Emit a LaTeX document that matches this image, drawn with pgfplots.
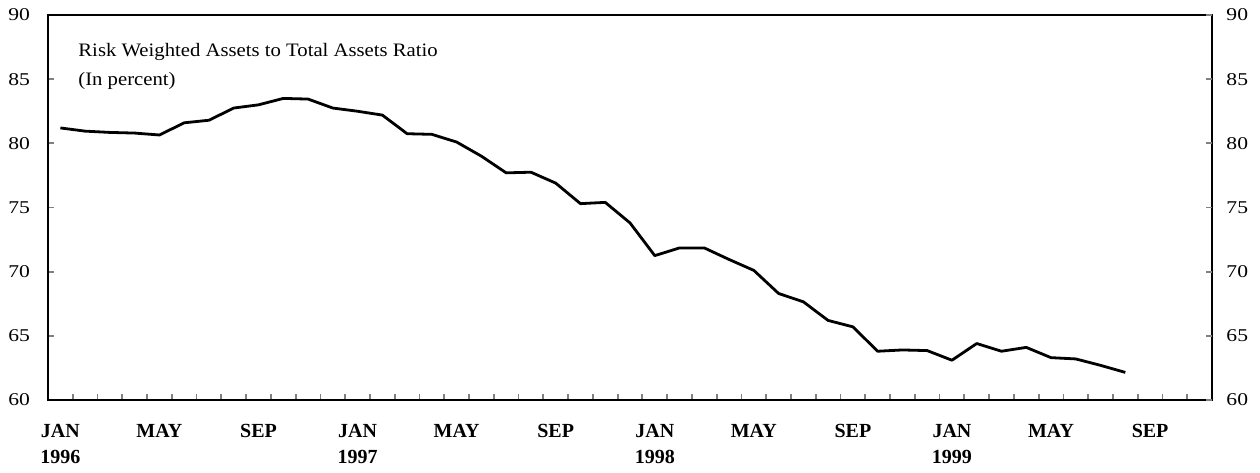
\documentclass[border=0pt]{standalone}
\usepackage{pgfplots}
\pgfplotsset{compat=1.18}
\usepackage{fontspec}
\usepackage{graphicx}
\setmainfont{Liberation Serif}
\pgfplotstableread{
x y
0.5 81.2
1.5 80.95
2.5 80.85
3.5 80.8
4.5 80.65
5.5 81.6
6.5 81.8
7.5 82.75
8.5 83.0
9.5 83.5
10.5 83.45
11.5 82.75
12.5 82.5
13.5 82.2
14.5 80.75
15.5 80.7
16.5 80.1
17.5 79.0
18.5 77.7
19.5 77.75
20.5 76.9
21.5 75.3
22.5 75.4
23.5 73.8
24.5 71.25
25.5 71.85
26.5 71.85
27.5 70.95
28.5 70.1
29.5 68.3
30.5 67.65
31.5 66.2
32.5 65.7
33.5 63.8
34.5 63.9
35.5 63.85
36.5 63.1
37.5 64.4
38.5 63.8
39.5 64.1
40.5 63.3
41.5 63.2
42.5 62.7
43.5 62.15
}\datatable
\newcommand{\hs}[1]{\scalebox{1.2}[1]{#1}}
\begin{document}
\begin{tikzpicture}
\begin{axis}[
  at={(0,0)}, anchor=south west,
  scale only axis,
  width=582pt, height=192.5pt,
  xmin=0, xmax=47, ymin=60, ymax=90,
  axis line style={line width=1.2pt},
  tick align=inside,
  xtick={1,...,46}, xticklabels={},
  major tick length=3pt,
  xtick pos=bottom,
  extra x ticks={0.5,4.5,8.5,12.5,16.5,20.5,24.5,28.5,32.5,36.5,40.5,44.5},
  extra x tick labels={JAN\\1996,MAY,SEP,JAN\\1997,MAY,SEP,JAN\\1998,MAY,SEP,JAN\\1999,MAY,SEP},
  extra x tick style={major tick length=0pt, tick style={draw=none},
    tick label style={align=center, anchor=north, yshift=-8.4pt,
      font=\fontsize{10}{13.3}\selectfont\bfseries}},
  ytick={60,65,...,90},
  ytick pos=left,
  y tick style={line width=0.9pt},
  x tick style={line width=0.9pt},
  yticklabel style={font=\fontsize{9}{10}\selectfont, xshift=-5.5pt},
  yticklabel={\hs{\pgfmathprintnumber[assume math mode=true]{\tick}}},
]
\addplot[black, line width=1.4pt, line join=round] table[x=x,y=y]{\datatable};
\node[anchor=base west, inner sep=0pt, font=\fontsize{9.5}{11}\selectfont] at (axis description cs:0.0258,0.891) {\scalebox{1.09}[1]{Risk Weighted Assets to Total Assets Ratio}};
\node[anchor=base west, inner sep=0pt, font=\fontsize{9.5}{11}\selectfont] at (axis description cs:0.0258,0.816) {\scalebox{1.09}[1]{(In percent)}};
\end{axis}
\begin{axis}[
  at={(0,0)}, anchor=south west,
  scale only axis,
  width=582pt, height=192.5pt,
  xmin=0, xmax=47, ymin=60, ymax=90,
  axis line style={draw=none},
  tick align=inside,
  xtick=\empty,
  ytick={60,65,...,90},
  ytick pos=right,
  yticklabel pos=right,
  major tick length=3pt,
  y tick style={line width=0.9pt},
  yticklabel style={font=\fontsize{9}{10}\selectfont, xshift=3.7pt},
  yticklabel={\hs{\pgfmathprintnumber[assume math mode=true]{\tick}}},
]
\end{axis}
\pgfresetboundingbox
\path (-24pt,-36pt) rectangle (606pt,200pt);
\end{tikzpicture}
\end{document}
